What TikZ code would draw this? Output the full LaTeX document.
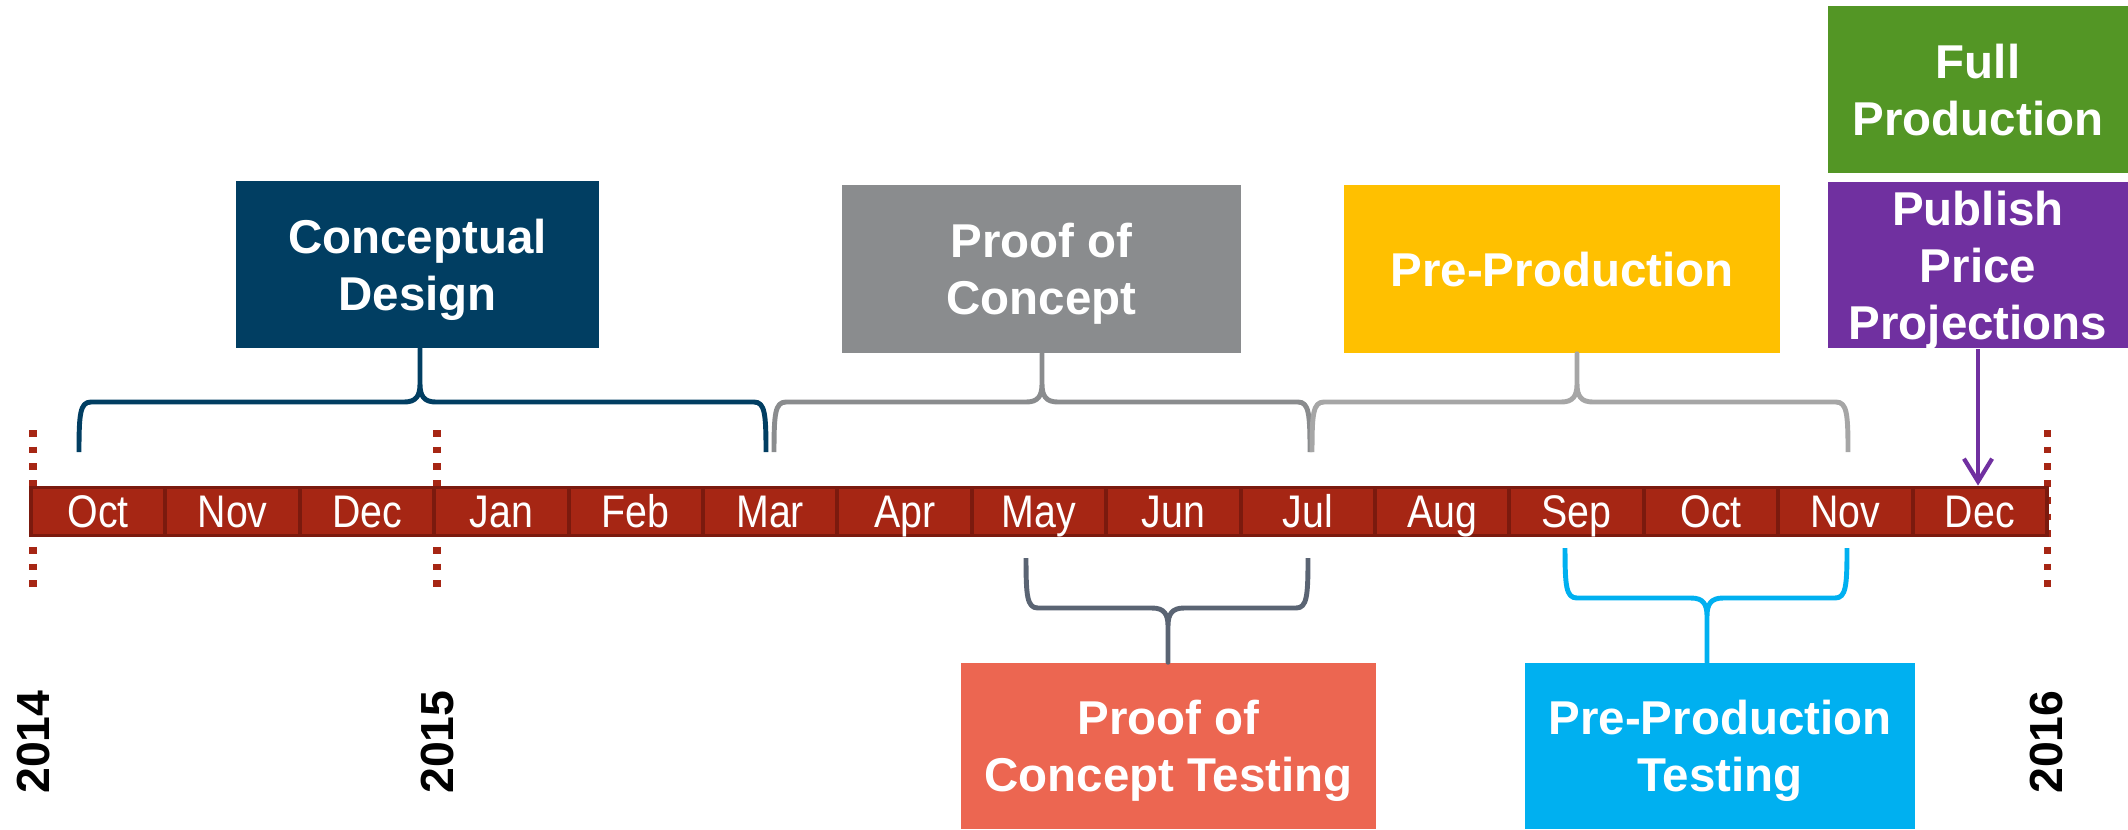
\documentclass[tikz,border=0pt]{standalone}
\usepackage{fontspec}
\setmainfont{Liberation Sans}
\newfontfamily\monthfont[FakeStretch=0.86]{Liberation Sans}
\usetikzlibrary{arrows.meta}

\definecolor{cdblue}{RGB}{1,62,98}
\definecolor{pocgray}{RGB}{138,140,142}
\definecolor{ppyellow}{RGB}{255,192,0}
\definecolor{fpgreen}{RGB}{83,150,37}
\definecolor{ppurple}{RGB}{112,48,160}
\definecolor{pocsalmon}{RGB}{236,102,81}
\definecolor{ppcyan}{RGB}{0,176,240}
\definecolor{lightgray}{RGB}{166,166,166}
\definecolor{slategray}{RGB}{90,100,115}
\definecolor{monthred}{RGB}{166,38,20}
\definecolor{monthdark}{RGB}{123,26,14}

\tikzset{
  phasebox/.style={inner sep=0pt, text=white, align=center, text depth=0pt,
    font=\bfseries\fontsize{13.5pt}{16.2pt}\selectfont},
  monthcell/.style={fill=monthred, draw=monthdark, line width=1.1pt,
    minimum width=1.344cm, minimum height=0.48cm, inner sep=0pt, text=white,
    font=\monthfont\fontsize{13pt}{15pt}\selectfont, text height=9.3pt, text depth=0pt},
  yearline/.style={draw=monthred, line width=2pt, dash pattern=on 1.9pt off 2.85pt},
  yearlabel/.style={rotate=90, inner sep=0pt, font=\bfseries\fontsize{13.2pt}{15pt}\selectfont},
  bracket/.style={line width=1.4pt, line join=round},
  pricearrow/.style={draw=ppurple, line width=1.2pt, -{Straight Barb[length=6.5pt, width=8pt]}},
}

% #1 colour, #2 left end, #3 centre, #4 right end, #5 y of the long stroke,
% #6 1 = ends below / -1 = ends above, #7 box anchor the tip runs to
\newcommand{\phasebrace}[7]{%
  \coordinate (tip) at (#3,#5);
  \draw[bracket, #1] ({#2},{#5+50*(#6)}) .. controls ({#2},{#5+12*(#6)}) and ({#2+1},{#5}) .. ({#2+12},{#5})
    -- ({#3-16},{#5}) .. controls ({#3-4},{#5}) and ({#3},{#5-6*(#6)}) .. ({#3},{#5-18*(#6)})
    -- (tip |- #7) -- ({#3},{#5-18*(#6)})
    .. controls ({#3},{#5-6*(#6)}) and ({#3+4},{#5}) .. ({#3+16},{#5})
    -- ({#4-12},{#5}) .. controls ({#4-1},{#5}) and ({#4},{#5+12*(#6)}) .. ({#4},{#5+50*(#6)});
}

\begin{document}
\begin{tikzpicture}[x=0.01cm, y=-0.01cm]
  \useasboundingbox (0,0) rectangle (2128,829);

  % year marks
  \draw[yearline] (33,430) -- (33,592);
  \draw[yearline] (437,430) -- (437,592);
  \draw[yearline] (2047,430) -- (2047,592);
  \node[yearlabel] (y14) at (34,742) {2014};
  \node[yearlabel] (y15) at (438,742) {2015};
  \node[yearlabel] (y16) at (2046,742) {2016};

  % months
  \foreach \m [count=\i] in {Oct,Nov,Dec,Jan,Feb,Mar,Apr,May,Jun,Jul,Aug,Sep,Oct,Nov,Dec}
    \node[monthcell] (m\i) at ({31+(\i-0.5)*134.4},511.5) {\m};

  % phases
  \node[phasebox, fill=cdblue, minimum width=3.63cm, minimum height=1.67cm] (cd) at (417.5,264.5) {Conceptual\\Design};
  \node[phasebox, fill=pocgray, minimum width=3.99cm, minimum height=1.68cm] (poc) at (1041.5,269) {Proof of\\Concept};
  \node[phasebox, fill=ppyellow, minimum width=4.36cm, minimum height=1.68cm] (pp) at (1562,269) {Pre-Production};
  \node[phasebox, fill=fpgreen, minimum width=3.0cm, minimum height=1.67cm] (fp) at (1978,89.5) {Full\\Production};
  \node[phasebox, fill=ppurple, minimum width=3.0cm, minimum height=1.66cm] (ppp) at (1978,265) {Publish\\Price\\Projections};
  \node[phasebox, fill=pocsalmon, minimum width=4.15cm, minimum height=1.66cm] (poct) at (1168.5,746) {Proof of\\Concept Testing};
  \node[phasebox, fill=ppcyan, minimum width=3.9cm, minimum height=1.66cm] (ppt) at (1720,746) {Pre-Production\\Testing};

  % braces
  \phasebrace{cdblue}{79}{420}{766}{402}{1}{cd.south}
  \phasebrace{pocgray}{774}{1042}{1310}{402}{1}{poc.south}
  \phasebrace{lightgray}{1312}{1577}{1848}{402}{1}{pp.south}
  \phasebrace{slategray}{1026}{1168}{1308}{608}{-1}{poct.north}
  \phasebrace{ppcyan}{1565}{1707}{1847}{598}{-1}{ppt.north}

  \draw[pricearrow] (ppp.south) -- (ppp.south |- m15.north);
\end{tikzpicture}
\end{document}
